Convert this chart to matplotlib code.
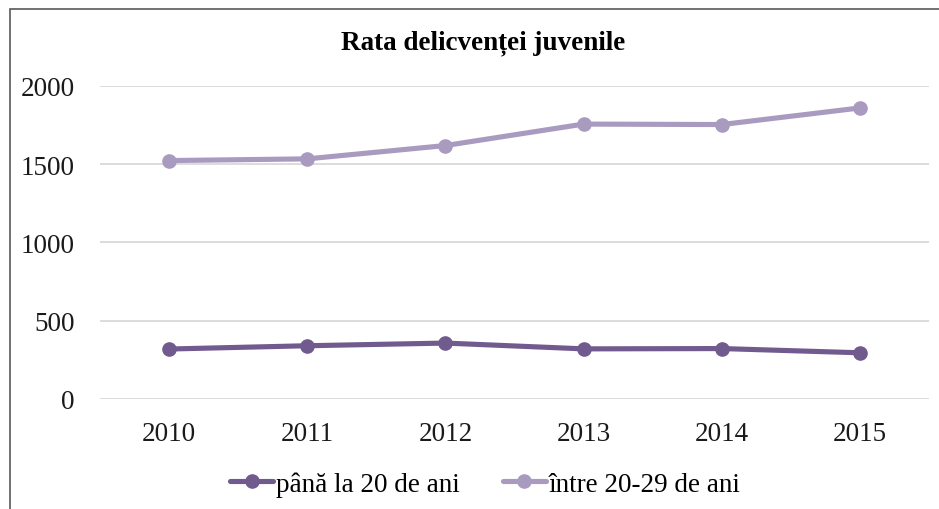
import matplotlib
matplotlib.use("Agg")
import matplotlib.pyplot as plt
from matplotlib.patches import Rectangle

years = ["2010", "2011", "2012", "2013", "2014", "2015"]
under_20 = [319, 340, 357, 320, 322, 295]
between_20_29 = [1522, 1533, 1618, 1755, 1752, 1858]
series_labels = ["până la 20 de ani", "între 20-29 de ani"]
title = "Rata delicvenței juvenile"
yticks = [0, 500, 1000, 1500, 2000]

plt.rcParams['font.family'] = ['Liberation Serif', 'DejaVu Serif']

W, H = 939, 510
fig = plt.figure(figsize=(W / 100, H / 100), dpi=100)
ax = fig.add_axes([100 / W, (H - 400) / H, 829 / W, (400 - 86.7) / H])

c_dark = "#715A8E"
c_light = "#A99BC0"
x = list(range(len(years)))
ax.plot(x, under_20, color=c_dark, lw=3.7, marker="o", markersize=9.5,
        label=series_labels[0], solid_capstyle="round")
ax.plot(x, between_20_29, color=c_light, lw=3.7, marker="o", markersize=9.5,
        label=series_labels[1], solid_capstyle="round")

ax.set_xlim(-0.5, len(years) - 0.5)
ax.set_ylim(0, 2000)
ax.set_yticks(yticks)
ax.set_xticks(x)
ax.set_xticklabels(years)
ax.yaxis.grid(True, color="#D9D9D9", lw=1.3)
ax.set_axisbelow(True)
for s in ax.spines.values():
    s.set_visible(False)
ax.tick_params(axis="both", length=0, labelsize=19.5, colors="#1a1a1a")
ax.tick_params(axis="y", pad=18)
ax.tick_params(axis="x", pad=16)

fig.text(483 / W, 1 - 43 / H, title, ha="center", va="center",
         fontsize=19.5, fontweight="bold", color="#000000")

fig.legend(loc="center", bbox_to_anchor=(485 / W, 1 - 485 / H), ncol=2,
           frameon=False, fontsize=19.5, handlelength=1.6, handletextpad=0.08,
           columnspacing=1.6)

fig.patches.append(Rectangle((9.5 / W, -0.2), 1.5, 1.2 - 10 / H, fill=False,
                             edgecolor="#595959", lw=1.2, transform=fig.transFigure))

fig.savefig("out.png", dpi=100)
